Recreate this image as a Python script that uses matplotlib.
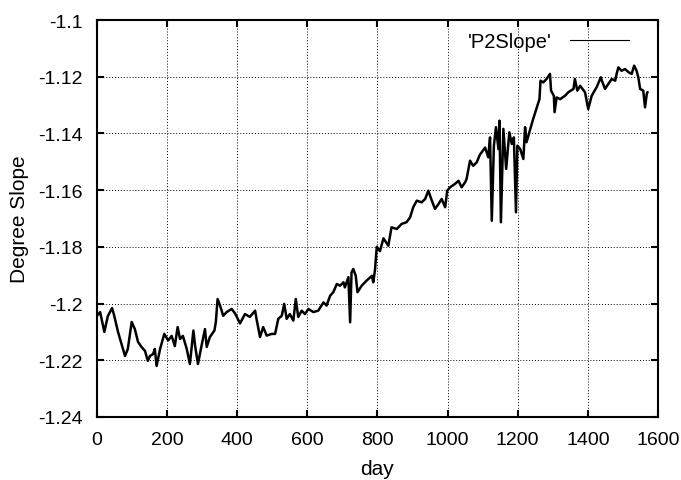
import numpy as np
import matplotlib
matplotlib.use("Agg")
import matplotlib.pyplot as plt
from matplotlib.ticker import FormatStrFormatter

# (day, slope)
day = [0, 9, 21, 31, 43, 48, 60, 74, 80, 88, 99, 108, 117, 127, 137, 145, 151, 160, 165, 170,
       180, 192, 203, 213, 222, 230, 237, 245, 256, 265, 275, 280, 288, 298, 308, 313, 322, 335,
       339, 344, 351, 360, 370, 384, 394, 408, 422, 436, 451, 455, 465, 474, 484, 498, 508, 517,
       527, 534, 541, 550, 560, 567, 574, 584, 593, 603, 617, 631, 646, 655, 665, 674, 684, 693,
       703, 707, 717, 722, 726, 731, 738, 743, 755, 769, 784, 788, 793, 798, 807, 817, 831, 840,
       855, 869, 883, 893, 902, 912, 926, 936, 945, 955, 964, 974, 983, 993, 999, 1007, 1021,
       1031, 1040, 1050, 1054, 1064, 1073, 1083, 1092, 1107, 1116, 1121, 1126, 1132, 1138, 1145,
       1148, 1152, 1159, 1167, 1176, 1183, 1189, 1195, 1199, 1207, 1216, 1221, 1225, 1244, 1262,
       1265, 1273, 1282, 1292, 1295, 1303, 1305, 1311, 1321, 1335, 1344, 1359, 1363, 1370, 1378,
       1392, 1401, 1411, 1425, 1437, 1440, 1449, 1458, 1468, 1478, 1482, 1487, 1496, 1506, 1516,
       1525, 1532, 1539, 1544, 1549, 1558, 1563, 1568, 1570]
slope = [-1.2043, -1.2030, -1.2100, -1.2044, -1.2016, -1.2037, -1.2100, -1.2160, -1.2185, -1.2160,
         -1.2065, -1.2090, -1.2135, -1.2153, -1.2167, -1.2202, -1.2185, -1.2178, -1.2160, -1.2220,
         -1.2160, -1.2107, -1.2130, -1.2114, -1.2150, -1.2083, -1.2125, -1.2114, -1.2160, -1.2213,
         -1.2095, -1.2150, -1.2213, -1.2150, -1.2090, -1.2153, -1.2118, -1.2095, -1.2065, -1.1984,
         -1.2007, -1.2043, -1.2030, -1.2019, -1.2035, -1.2070, -1.2037, -1.2047, -1.2025, -1.2054,
         -1.2118, -1.2083, -1.2113, -1.2107, -1.2107, -1.2054, -1.2043, -1.2001, -1.2054, -1.2037,
         -1.2060, -1.1984, -1.2047, -1.2025, -1.2037, -1.2019, -1.2030, -1.2025, -1.1996, -1.2007,
         -1.1972, -1.1960, -1.1931, -1.1937, -1.1925, -1.1943, -1.1907, -1.2066, -1.1890, -1.1878,
         -1.1902, -1.1960, -1.1937, -1.1919, -1.1902, -1.1925, -1.1880, -1.1800, -1.1815, -1.1770,
         -1.1796, -1.1731, -1.1737, -1.1719, -1.1713, -1.1696, -1.1660, -1.1637, -1.1643, -1.1631,
         -1.1602, -1.1637, -1.1666, -1.1649, -1.1631, -1.1660, -1.1602, -1.1590, -1.1578, -1.1567,
         -1.1590, -1.1572, -1.1561, -1.1496, -1.1514, -1.1502, -1.1475, -1.1450, -1.1484, -1.1414,
         -1.1708, -1.1443, -1.1378, -1.1455, -1.1355, -1.1713, -1.1384, -1.1525, -1.1396, -1.1437,
         -1.1414, -1.1678, -1.1443, -1.1455, -1.1490, -1.1378, -1.1431, -1.1349, -1.1279, -1.1214,
         -1.1220, -1.1208, -1.1190, -1.1249, -1.1267, -1.1325, -1.1273, -1.1279, -1.1267, -1.1255,
         -1.1243, -1.1208, -1.1249, -1.1232, -1.1255, -1.1314, -1.1267, -1.1237, -1.1202, -1.1214,
         -1.1243, -1.1226, -1.1208, -1.1214, -1.1190, -1.1167, -1.1179, -1.1173, -1.1184, -1.1190,
         -1.1161, -1.1179, -1.1202, -1.1243, -1.1249, -1.1308, -1.1261, -1.1255]

plt.rcParams['font.family'] = ['Liberation Sans', 'DejaVu Sans']

fig = plt.figure(figsize=(6.81, 4.81), dpi=100)
ax = fig.add_axes([0.1424, 0.131, 0.8238, 0.8253])

ax.plot(day, slope, color='black', linewidth=1.8, label="'P2Slope'")

ax.set_xlim(0, 1600)
ax.set_ylim(-1.24, -1.1)
ax.set_xticks(np.arange(0, 1601, 200))
ax.set_yticks(np.arange(-1.24, -1.099, 0.02))
ax.yaxis.set_major_formatter(FormatStrFormatter('%g'))

ax.grid(True, color='black', linestyle=(0, (1, 2)), linewidth=0.7)
ax.tick_params(direction='in', length=5, width=1.5, top=True, right=True, labelsize=14, pad=10)
for sp in ax.spines.values():
    sp.set_linewidth(1.5)

ax.set_xlabel('day', fontsize=15, labelpad=8)
ax.set_ylabel('Degree Slope', fontsize=15, labelpad=7)

leg = ax.legend(loc='upper right', frameon=False, markerfirst=False, handlelength=2.9,
                fontsize=14.5, bbox_to_anchor=(0.962, 0.99), borderaxespad=0.0,
                handletextpad=0.9)
for ln in leg.get_lines():
    ln.set_linewidth(0.8)

fig.savefig('out.png', dpi=100)
